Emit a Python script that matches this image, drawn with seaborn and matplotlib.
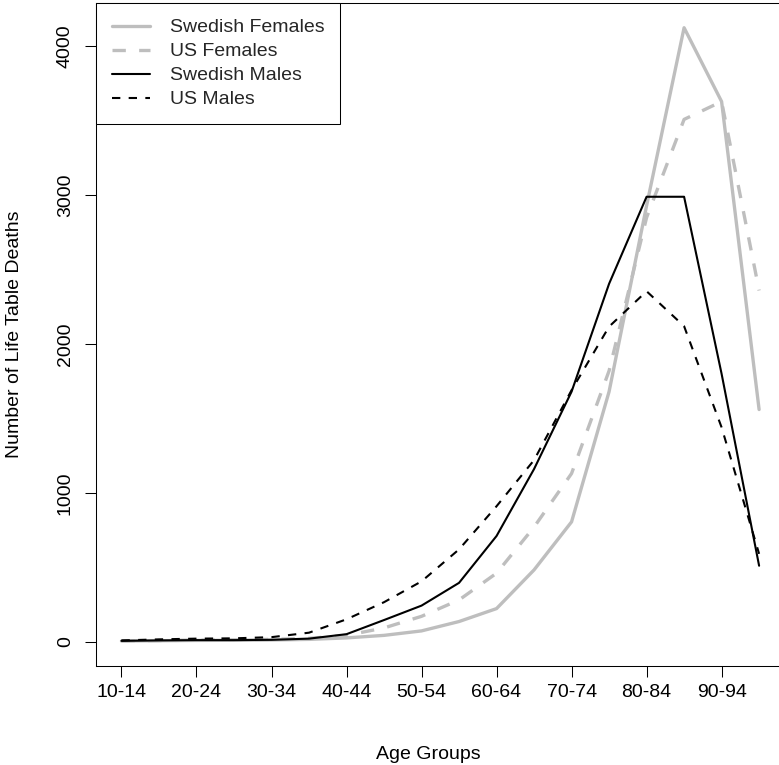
import numpy as np
import pandas as pd
import matplotlib
matplotlib.use("Agg")
import matplotlib.pyplot as plt
import seaborn as sns

# age groups 10-14 ... 95-99
age_groups = ["10-14", "15-19", "20-24", "25-29", "30-34", "35-39", "40-44",
              "45-49", "50-54", "55-59", "60-64", "65-69", "70-74", "75-79",
              "80-84", "85-89", "90-94", "95-99"]

swedish_females = [4, 6, 8, 9, 11, 15, 25, 42, 72, 135, 222, 482, 805, 1680,
                   2930, 4126, 3630, 1560]
us_females = [5, 7, 10, 12, 15, 22, 42, 92, 170, 280, 460, 770, 1130, 1820,
              2850, 3510, 3630, 2360]
swedish_males = [5, 8, 10, 10, 12, 20, 50, 145, 242, 395, 710, 1160, 1680,
                 2405, 2990, 2990, 1800, 510]
us_males = [8, 15, 20, 22, 30, 60, 150, 265, 405, 620, 910, 1220, 1690, 2117,
            2355, 2120, 1440, 590]

series_names = ["Swedish Females", "US Females", "Swedish Males", "US Males"]
series_values = [swedish_females, us_females, swedish_males, us_males]
series_colors = ["#BEBEBE", "#BEBEBE", "black", "black"]
series_widths = [2.4, 2.4, 1.5, 1.5]
series_dashed = [False, True, False, True]

FS = 14

sns.set_style("ticks")
plt.rcParams["font.family"] = ["Liberation Sans", "DejaVu Sans"]

fig = plt.figure(figsize=(7.79, 7.65), dpi=100)
ax = fig.add_axes([0.1232, 0.130, 0.884, 0.8658])

x = np.arange(len(age_groups))
for name, vals, col, lw, dashed in zip(series_names, series_values, series_colors,
                                       series_widths, series_dashed):
    df = pd.DataFrame({"x": x, "y": vals})
    ls = (0, (4, 4)) if dashed else "-"
    sns.lineplot(data=df, x="x", y="y", ax=ax, color=col, linewidth=lw,
                 linestyle=ls, label=name, legend=False)

# R-style axis limits (4% padding)
allv = np.concatenate([np.array(v) for v in series_values])
lo, hi = allv.min(), allv.max()
pad = 0.04 * (hi - lo)
ax.set_ylim(lo - pad, hi + pad)
xpad = 0.04 * (len(age_groups) - 1)
ax.set_xlim(-xpad, len(age_groups) - 1 + xpad)

ax.set_xticks(x[::2])
ax.set_xticklabels(age_groups[::2])
ax.set_yticks([0, 1000, 2000, 3000, 4000])
ax.tick_params(axis="both", direction="out", length=8, width=0.75,
               color="black", labelsize=FS, labelcolor="black")
ax.tick_params(axis="x", pad=5)
ax.tick_params(axis="y", pad=8)
plt.setp(ax.get_yticklabels(), rotation=90, va="center")

for sp in ax.spines.values():
    sp.set_visible(True)
    sp.set_color("black")
    sp.set_linewidth(0.75)

ax.set_xlabel("Age Groups", fontsize=FS, color="black")
ax.set_ylabel("Number of Life Table Deaths", fontsize=FS, color="black")
ax.xaxis.set_label_coords(0.482, -0.135)
ax.yaxis.set_label_coords(-0.119, 0.5)
ax.yaxis.label.set_va("center")
ax.xaxis.label.set_va("center")

leg = ax.legend(loc="upper left", bbox_to_anchor=(0, 1), borderaxespad=0,
                fontsize=FS, frameon=True, fancybox=False, framealpha=1,
                edgecolor="black", handlelength=2.0, handletextpad=1.0,
                labelspacing=0.33, borderpad=0.8)
leg.get_frame().set_linewidth(0.75)

fig.savefig("out.png", dpi=100)
